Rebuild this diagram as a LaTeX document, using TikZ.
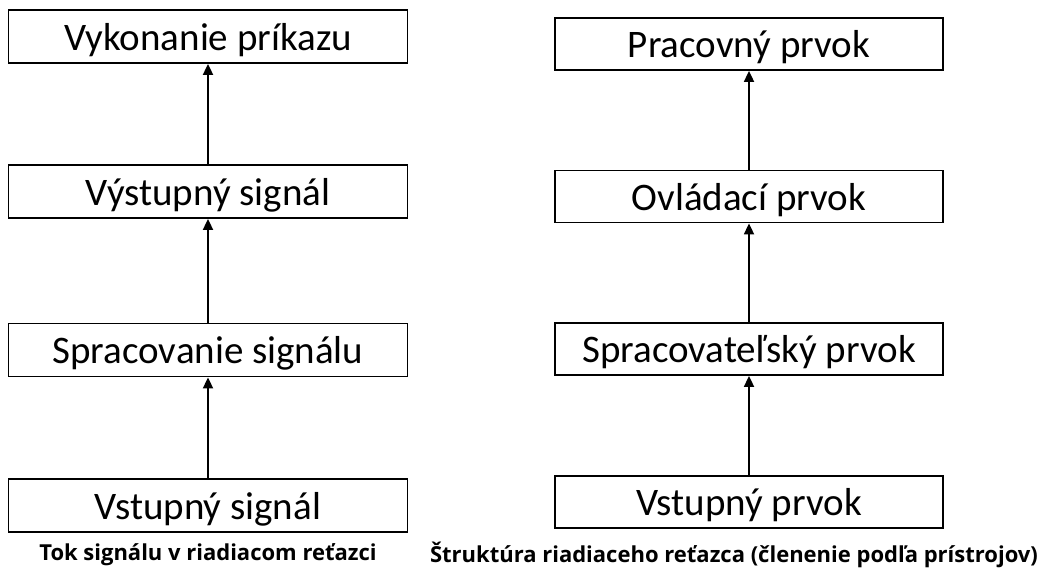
\documentclass[tikz,border=0pt]{standalone}
\usepackage{fontspec}
\setmainfont{Carlito}
\newfontfamily\capfont{Open Sans}
\usetikzlibrary{arrows.meta}
\tikzstyle{block} = [rectangle, draw=black, line width=1.8pt, inner sep=0pt, text height=36pt, text depth=9pt, minimum height=53pt, font=\fontsize{39}{45}\selectfont]
\tikzstyle{leftblock} = [block, minimum width=399pt]
\tikzstyle{rightblock} = [block, minimum width=388pt, minimum height=52pt]
\tikzstyle{caption} = [font=\capfont\bfseries\fontsize{22}{26}\selectfont, inner sep=0pt]
\tikzstyle{arrow} = [line width=1.8pt, -{Stealth[length=11pt, width=10pt, inset=0pt]}]

\begin{document}
\begin{tikzpicture}[x=1pt, y=-1pt]
    \useasboundingbox (0,0) rectangle (1056,578);
    % signal flow
    \node (command) [leftblock] at (208,36.5) {Vykonanie príkazu};
    \node (output) [leftblock] at (208,191.5) {Výstupný signál};
    \node (processing) [leftblock] at (208,350) {Spracovanie signálu};
    \node (input) [leftblock] at (208,505.5) {Vstupný signál};
    \node (cap1) [caption] at (208,555) {Tok signálu v riadiacom reťazci};

    \draw [arrow] (input) -- (processing);
    \draw [arrow] (processing) -- (output);
    \draw [arrow] (output) -- (command);

    % device structure
    \node (working) [rightblock] at (749,44) {Pracovný prvok};
    \node (control) [rightblock] at (749,196.5) {Ovládací prvok};
    \node (processor) [rightblock] at (749,349) {Spracovateľský prvok};
    \node (sensor) [rightblock] at (749,502) {Vstupný prvok};
    \node (cap2) [caption] at (734,555) {Štruktúra riadiaceho reťazca (členenie podľa prístrojov)};

    \draw [arrow] (sensor) -- (processor);
    \draw [arrow] (processor) -- (control);
    \draw [arrow] (control) -- (working);
\end{tikzpicture}
\end{document}
